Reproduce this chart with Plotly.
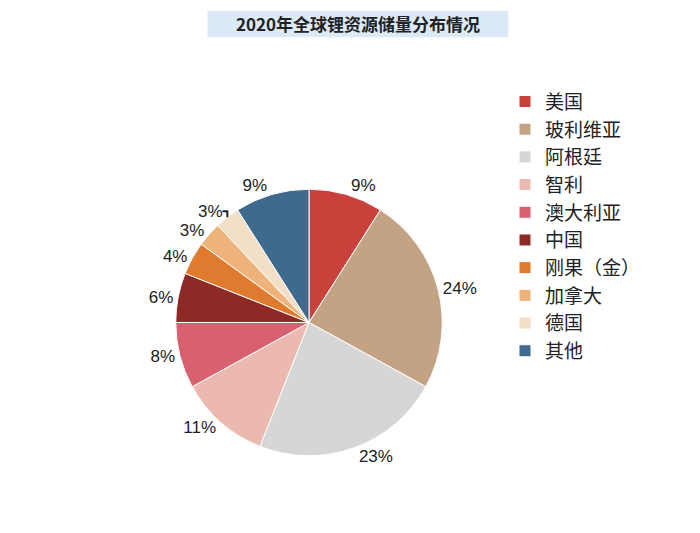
import plotly.graph_objects as go

countries = ["美国", "玻利维亚", "阿根廷", "智利", "澳大利亚", "中国", "刚果（金）", "加拿大", "德国", "其他"]
shares = [9, 24, 23, 11, 8, 6, 4, 3, 3, 9]
colors = ["#C8413A", "#C4A384", "#D6D6D6", "#EBB9B0", "#D9606E", "#8E2A26",
          "#E07A2E", "#EDB37A", "#F3DEC6", "#3F6A8E"]

fig = go.Figure(go.Pie(
    labels=countries, values=shares, sort=False, direction="clockwise", rotation=0,
    marker=dict(colors=colors, line=dict(color="white", width=1)),
    texttemplate="%{value}%", textposition="outside",
    textfont=dict(size=17, color="#222", family="Liberation Sans"),
    domain=dict(x=[0.18, 0.68], y=[0.16, 0.66]),
))
fig.update_layout(
    width=700, height=533, paper_bgcolor="white", plot_bgcolor="white",
    margin=dict(l=0, r=0, t=0, b=0),
    legend=dict(x=0.71, y=0.86, xanchor="left", yanchor="top",
                font=dict(size=19, family="Noto Sans CJK SC", color="#222"),
                itemwidth=30),
    showlegend=True,
)
fig.add_shape(type="rect", xref="paper", yref="paper", x0=0.285, x1=0.715, y0=0.945, y1=0.995,
              fillcolor="#DCE9F7", line=dict(width=0), layer="below")
fig.add_annotation(text="<b>2020年全球锂资源储量分布情况</b>", xref="paper", yref="paper",
                   x=0.5, y=0.97, showarrow=False, yanchor="middle",
                   font=dict(size=17, family="Noto Sans CJK SC", color="#222"))
fig.write_html("out.html")
